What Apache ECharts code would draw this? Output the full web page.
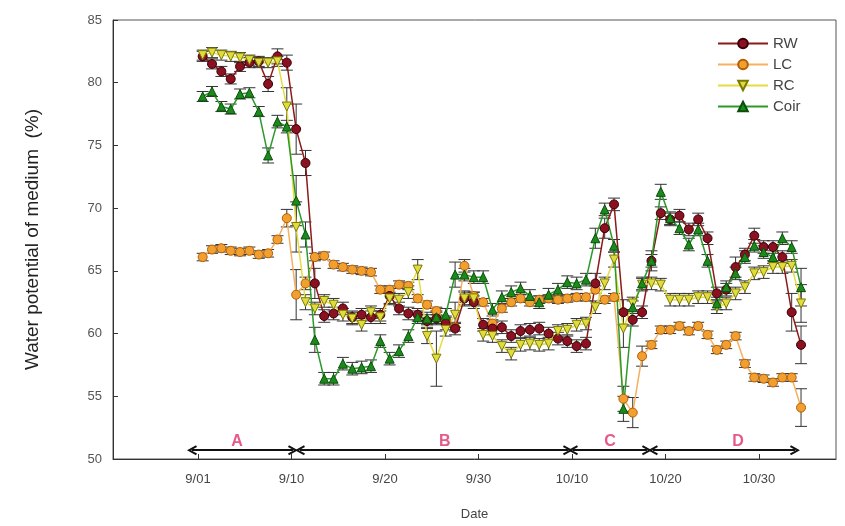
<!DOCTYPE html>
<html><head><meta charset="utf-8">
<script src="https://cdn.jsdelivr.net/npm/echarts@6/dist/echarts.min.js"></script>
<style>html,body{margin:0;padding:0;background:#fff}#c{width:845px;height:526px}</style>
</head><body><div id="c"></div>
<script>
// measurement day index (1 = first reading)
const days = [1,2,3,4,5,6,7,8,9,10,11,12,13,14,15,16,17,18,19,20,21,22,23,24,25,26,27,28,29,30,31,32,33,34,35,36,37,38,39,40,41,42,43,44,45,46,47,48,49,50,51,52,53,54,55,56,57,58,59,60,61,62,63,64,65];

const rw = [82.1,81.5,80.9,80.3,81.3,81.6,81.7,79.9,82.1,81.6,76.3,73.6,64.0,61.4,61.6,62.0,61.3,61.5,61.3,61.5,63.0,62.0,61.6,61.5,61.0,61.2,60.8,60.4,62.8,62.5,60.7,60.4,60.5,59.8,60.2,60.3,60.4,60.0,59.6,59.4,59.0,59.2,64.0,68.4,70.3,61.7,61.1,61.7,65.8,69.6,69.1,69.4,68.3,69.1,67.6,63.2,63.5,65.3,66.3,67.8,66.9,66.9,66.1,61.7,59.1];
const rwErr = [0.4,0.4,0.4,0.4,0.4,0.4,0.4,0.6,0.6,0.6,2.0,1.0,1.2,0.5,0.5,0.5,0.5,0.5,0.5,0.5,0.6,0.5,0.5,0.5,0.5,0.5,0.5,0.5,0.6,0.5,0.5,0.5,0.5,0.5,0.5,0.5,0.5,0.5,0.5,0.5,0.5,0.5,0.8,0.8,0.5,1.0,0.5,0.5,0.8,0.5,0.5,0.5,0.5,0.5,0.5,0.5,0.5,0.8,0.5,0.6,0.5,0.5,0.5,1.5,1.5];

const lc = [66.1,66.7,66.8,66.6,66.5,66.6,66.3,66.4,67.5,69.2,63.1,64.0,66.1,66.2,65.5,65.3,65.1,65.0,64.9,63.5,63.5,63.9,63.8,62.8,62.3,61.8,61.1,60.5,65.4,63.0,62.5,60.8,62.0,62.5,62.8,62.5,62.7,62.8,62.7,62.8,62.9,62.9,63.5,62.7,62.9,54.8,53.7,58.2,59.1,60.3,60.3,60.6,60.2,60.6,59.9,58.7,59.1,59.8,57.6,56.5,56.4,56.1,56.5,56.5,54.1];
const lcErr = [0.3,0.3,0.3,0.3,0.3,0.3,0.3,0.3,0.3,0.7,2.0,0.5,0.3,0.3,0.3,0.3,0.3,0.3,0.3,0.3,0.3,0.3,0.3,0.3,0.3,0.3,0.3,0.3,0.5,0.3,0.3,0.3,0.3,0.3,0.3,0.3,0.3,0.3,0.3,0.3,0.3,0.3,0.3,0.3,0.3,1.0,1.2,0.8,0.3,0.3,0.3,0.3,0.3,0.3,0.3,0.3,0.3,0.3,0.3,0.3,0.3,0.3,0.3,0.3,1.5];

const rc = [82.2,82.4,82.2,82.1,82.0,81.8,81.6,81.6,81.7,78.1,68.5,62.5,62.0,62.6,62.3,61.5,61.2,60.7,61.7,61.3,62.8,62.7,63.3,65.1,59.8,58.0,60.3,61.5,62.8,62.8,59.9,59.8,59.0,58.4,59.1,59.2,59.1,59.2,60.2,60.3,60.7,60.8,62.1,64.0,65.9,60.4,62.4,63.9,64.0,63.9,62.7,62.7,62.7,62.9,62.9,62.1,62.4,63.2,63.7,64.8,64.9,65.3,65.3,65.4,62.4];
const rcErr = [0.4,0.4,0.4,0.4,0.4,0.4,0.4,0.4,0.4,1.5,2.0,0.6,0.5,0.5,0.5,0.5,0.5,0.5,0.5,0.5,0.5,0.5,0.5,0.8,0.6,2.2,0.5,1.0,0.5,0.5,0.5,0.5,0.5,0.5,0.5,0.5,0.5,0.5,0.5,0.5,0.5,0.5,0.5,0.5,0.6,1.5,0.5,0.5,0.5,0.5,0.5,0.5,0.5,0.5,0.5,0.5,0.5,0.5,0.5,0.5,0.5,0.5,0.5,0.5,1.5];

const coir = [78.9,79.3,78.1,77.9,79.1,79.2,77.7,74.2,76.9,76.5,70.6,67.9,59.5,56.4,56.4,57.6,57.2,57.3,57.4,59.4,58.0,58.6,59.8,61.3,61.2,61.3,61.5,64.7,64.7,64.5,64.5,61.9,62.9,63.3,63.6,63.0,62.5,63.1,63.5,64.1,64.0,64.3,67.6,69.9,67.0,54.0,62.1,64.0,65.8,71.3,69.2,68.4,67.1,68.3,65.8,62.4,63.7,64.8,66.1,67.0,66.5,66.1,67.6,66.9,63.7];
const coirErr = [0.4,0.4,0.4,0.4,0.4,0.4,0.4,0.6,0.5,0.5,2.0,1.0,1.0,0.5,0.5,0.5,0.5,0.5,0.5,0.5,0.5,0.5,0.5,0.5,0.5,0.5,0.5,1.0,0.5,0.5,0.5,0.5,0.5,0.5,0.5,0.5,0.5,0.5,0.5,0.5,0.5,0.5,0.8,0.5,0.5,1.0,0.5,0.5,0.5,0.6,0.5,0.5,0.5,0.5,0.5,0.5,0.5,0.5,0.5,0.5,0.5,0.5,0.5,0.5,1.5];

// x-axis tick labels
const tickValues = [0.5,10.5,20.5,30.5,40.5,50.5,60.5];
const tickLabels = ['9/01','9/10','9/20','9/30','10/10','10/20','10/30'];

// period annotations
const periodNames = ['A','B','C','D'];
const periodStart = [-0.14, 11.41, 40.61, 49.16];
const periodEnd = [10.66, 40.07, 48.52, 64.35];
const periodLabelX = [4.67, 26.9, 44.56, 58.25];
const arrowY = 50.7;
const labelY = 51.35;

const font = 'Liberation Sans, Arial, Helvetica, sans-serif';
function pairs(v){ return days.map((d,i)=>[d, v[i]]); }
function errs(v,e){ return days.map((d,i)=>[d, v[i]-e[i], v[i]+e[i]]); }
function errSeries(v,e,name){
  return {type:'custom', name:name, data:errs(v,e), encode:{x:0,y:[1,2]}, z:1, silent:true,
    renderItem:function(params, api){
      const x = api.value(0);
      const a = api.coord([x, api.value(1)]);
      const b = api.coord([x, api.value(2)]);
      const w = 6; const st = {stroke:'#333', lineWidth:1};
      return {type:'group', children:[
        {type:'line', shape:{x1:a[0],y1:a[1],x2:b[0],y2:b[1]}, style:st},
        {type:'line', shape:{x1:a[0]-w,y1:a[1],x2:a[0]+w,y2:a[1]}, style:st},
        {type:'line', shape:{x1:b[0]-w,y1:b[1],x2:b[0]+w,y2:b[1]}, style:st}
      ]};
    }};
}
function lineSeries(name, v, color, fill, border, symbol, rot){
  return {type:'line', name:name, data:pairs(v), symbol:symbol, symbolRotate:rot, symbolSize:9, z:3,
    lineStyle:{color:color, width:1.5}, itemStyle:{color:fill, borderColor:border, borderWidth:1},
    emphasis:{disabled:true}};
}
const chev = 'path://M5,0 L10,9 L8.3,10 L5,4 L1.7,10 L0,9 Z';

const chart = echarts.init(document.getElementById('c'), null, {renderer:'canvas'});
chart.setOption({
  animation:false,
  backgroundColor:'#fff',
  grid:{left:113, right:9, top:20, bottom:62, show:true, borderColor:'#555', borderWidth:1},
  legend:{data:['RW','LC','RC','Coir'], orient:'vertical', left:712, top:31, itemWidth:50, itemHeight:12, itemGap:6,
    selectedMode:false, textStyle:{fontSize:15, color:'#444', fontFamily:font}},
  xAxis:{type:'value', min:-8.59, max:68.74,
    name:'Date', nameLocation:'middle', nameGap:49, nameTextStyle:{fontSize:13, color:'#444', fontFamily:font},
    axisLine:{onZero:false, lineStyle:{color:'#333'}},
    axisTick:{inside:true, length:5, customValues:tickValues, lineStyle:{color:'#333'}},
    axisLabel:{customValues:tickValues, margin:14, fontSize:13, color:'#444', fontFamily:font,
      formatter:function(v){ const i = tickValues.indexOf(v); return i>=0 ? tickLabels[i] : ''; }},
    splitLine:{show:false}},
  yAxis:{type:'value', min:50, max:85, interval:5,
    name:'Water potential of medium  (%)', nameLocation:'middle', nameGap:71,
    nameTextStyle:{fontSize:19, color:'#222', fontFamily:font},
    axisLine:{show:true, onZero:false, lineStyle:{color:'#333'}},
    axisTick:{show:true, inside:true, length:5, lineStyle:{color:'#333'}},
    axisLabel:{margin:11, fontSize:13, color:'#555', fontFamily:font},
    splitLine:{show:false}},
  series:[
    errSeries(lc, lcErr, 'LC err'),
    errSeries(rw, rwErr, 'RW err'),
    errSeries(rc, rcErr, 'RC err'),
    errSeries(coir, coirErr, 'Coir err'),
    lineSeries('LC', lc, '#f5b060', '#f0a030', '#b85c00', 'circle', 0),
    lineSeries('RW', rw, '#8b1a1a', '#8b1020', '#3a0008', 'circle', 0),
    lineSeries('RC', rc, '#e4dc40', '#e0dc40', '#7a7a00', 'triangle', 180),
    lineSeries('Coir', coir, '#2a9a2a', '#1a8a1a', '#0b4d0b', 'triangle', 0),
    {type:'scatter', name:'periods', z:5, silent:true,
      data:periodNames.map((n,i)=>({name:n, value:[periodLabelX[i], labelY]})),
      symbol:'circle', symbolSize:1, itemStyle:{color:'rgba(0,0,0,0)'},
      label:{show:true, position:'inside', formatter:'{b}', color:'#e0306a', fontSize:16, fontWeight:'bold', fontFamily:font},
      markLine:{silent:true, symbol:[chev, chev], symbolSize:[10,10], label:{show:false},
        lineStyle:{color:'#111', width:2, type:'solid'}, emphasis:{disabled:true},
        data:periodNames.map((n,i)=>[{coord:[periodStart[i], arrowY]},{coord:[periodEnd[i], arrowY]}])}}
  ]
});
</script></body></html>
